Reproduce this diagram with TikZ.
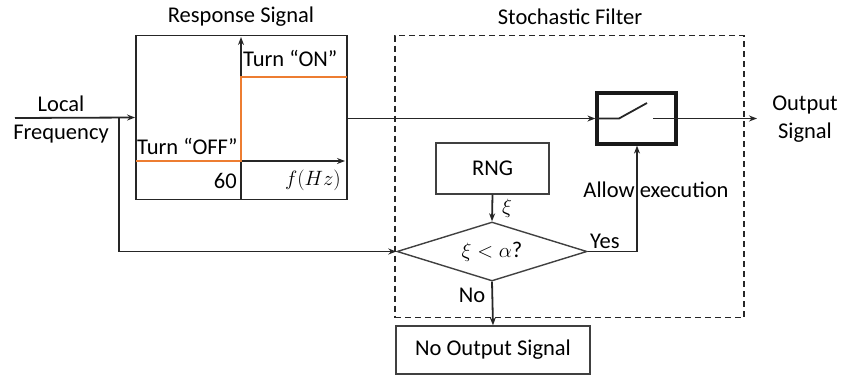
\documentclass[tikz,border=0pt]{standalone}
\usepackage{fontspec}
\setmainfont{Carlito}
\usetikzlibrary{arrows.meta,shapes.geometric}
\definecolor{orng}{HTML}{ED7D31}
\definecolor{dgray}{HTML}{404040}
\tikzset{
  conn/.style={line width=1.8pt, draw=black!85, -{Stealth[length=8pt,width=6pt]}},
  plain/.style={line width=1.8pt, draw=black!85},
  graybox/.style={draw=dgray, line width=1.3pt, inner sep=0pt},
  lbl/.style={inner sep=0pt, font=\fontsize{22.5}{26}\selectfont},
}
\begin{document}
\begin{tikzpicture}[x=1pt,y=-1pt]
\useasboundingbox (0,0) rectangle (844,375);
% response box
\node[draw=black!85, line width=1.8pt, minimum width=211pt, minimum height=164pt, inner sep=0pt] (resp) at (241.5,117.5) {};
\node[lbl] (resptitle) at (241,17) {Response Signal};
% axes
\coordinate (yaxb) at (241,199.5);
\coordinate (yaxt) at (241,37);
\coordinate (xaxl) at (241,161);
\coordinate (xaxr) at (345,161);
\draw[conn] (yaxb) -- (yaxt);
\draw[conn] (xaxl) -- (xaxr);
\draw[orng, line width=2pt] (136,161) -- (241,161) -- (241,77) -- (347,77);
\node[lbl, anchor=west] (on) at (243,58) {Turn “ON”};
\node[lbl, anchor=west] (off) at (137,146) {Turn “OFF”};
\node[lbl, anchor=east] (sixty) at (237,181) {60};
\node[lbl, anchor=east] (fhz) at (341,180) {$f(Hz)$};
% input
\node[lbl, align=center] (local) at (61,119) {Local\\[2pt]Frequency};
\coordinate (in) at (15,118);
\coordinate (br) at (119,118);
\draw[conn] (in) -- (resp.west);
% stochastic filter
\node[draw=black!85, line width=1.8pt, dash pattern=on 6pt off 4pt, minimum width=349pt, minimum height=282pt, inner sep=0pt] (filter) at (569.5,176.5) {};
\node[lbl] (filtertitle) at (570,17) {Stochastic Filter};
% switch
\node[draw=black!90, line width=3.2pt, minimum width=79pt, minimum height=51pt, inner sep=0pt] (sw) at (636.5,118.5) {};
\draw[plain] (sw.west) -- (619,118.5) -- (647,103);
\draw[plain] (653,118.5) -- (sw.east);
\draw[conn] (resp.east |- sw.west) -- (sw.west);
\coordinate (out) at (757,118.5);
\draw[conn] (sw.east) -- (out);
\node[lbl, align=center] (outlbl) at (805,119) {Output\\[2pt]Signal};
% RNG
\node[graybox, minimum width=113pt, minimum height=51pt, lbl] (rng) at (492.5,168.5) {RNG};
% diamond
\node[diamond, draw=dgray, line width=1.4pt, minimum width=190pt, minimum height=59pt, inner sep=0pt, aspect=3.2, font=\fontsize{22.5}{26}\selectfont] (dec) at (492,251.5) {$\xi<\alpha$?};
\draw[conn] (rng.south) -- (dec.north);
\node[lbl] (xi) at (507,208) {$\xi$};
% branch from local frequency
\draw[conn] (br) -- (br |- dec.west) -- (dec.west);
% yes
\coordinate (yc) at (637,251.5);
\draw[conn] (dec.east) -- (yc) -- (sw.south -| yc);
\node[lbl, anchor=west] (yes) at (590,241) {Yes};
\node[lbl] (allow) at (656,190) {Allow execution};
% no
\node[graybox, minimum width=194pt, minimum height=48pt, lbl] (noout) at (493,350) {No Output Signal};
\draw[conn] (dec.south) -- (noout.north);
\node[lbl] (nolbl) at (472,295) {No};
\end{tikzpicture}
\end{document}
